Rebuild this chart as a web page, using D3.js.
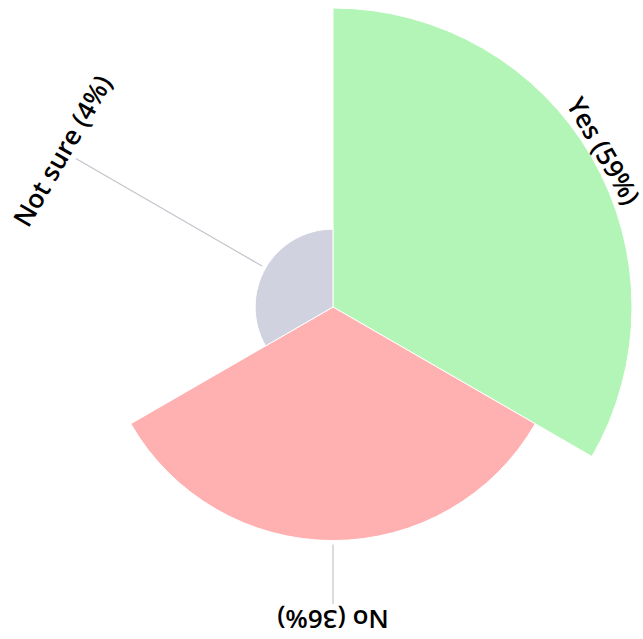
<!DOCTYPE html>
<html><head><meta charset="utf-8">
<script src="https://cdn.jsdelivr.net/npm/d3@7"></script>
<style>html,body{margin:0;padding:0;background:#fff;}svg{display:block;}</style>
</head><body>
<svg id="chart" width="643" height="639"></svg>
<script>
const categories = ["Yes", "No", "Not sure"];
const values = [59, 36, 4];
const colors = ["#b2f5b7", "#ffb0b0", "#d0d2df"];

const W = 643, H = 639, cx = 333, cy = 307;
const maxR = 299, labelR = 303;
const svg = d3.select("#chart");
const g = svg.append("g").attr("transform", `translate(${cx},${cy})`);

const data = categories.map((c, i) => ({cat: c, value: values[i], color: colors[i]}));
const pie = d3.pie().value(() => 1).sort(null);
const r = d3.scaleSqrt().domain([0, d3.max(values)]).range([0, maxR]);
const arc = d3.arc().innerRadius(0).outerRadius(d => r(d.data.value));
const arcs = pie(data);

g.selectAll("path.slice").data(arcs).join("path")
  .attr("class", "slice")
  .attr("d", arc)
  .attr("fill", d => d.data.color)
  .attr("stroke", "#fff")
  .attr("stroke-width", 1);

const mid = d => (d.startAngle + d.endAngle) / 2;
g.selectAll("line.leader").data(arcs.filter(d => r(d.data.value) + 3 < labelR - 6)).join("line")
  .attr("class", "leader")
  .attr("x1", d => Math.sin(mid(d)) * (r(d.data.value) + 4))
  .attr("y1", d => -Math.cos(mid(d)) * (r(d.data.value) + 4))
  .attr("x2", d => Math.sin(mid(d)) * (labelR - 6))
  .attr("y2", d => -Math.cos(mid(d)) * (labelR - 6))
  .attr("stroke", "#c4c4cc")
  .attr("stroke-width", 1.2);

g.selectAll("text.lbl").data(arcs).join("text")
  .attr("class", "lbl")
  .attr("transform", d => `rotate(${mid(d) * 180 / Math.PI}) translate(0,${-labelR})`)
  .attr("text-anchor", "middle")
  .attr("font-family", "'Open Sans', sans-serif")
  .attr("font-weight", 600)
  .attr("font-size", 26)
  .attr("fill", "#000")
  .text(d => `${d.data.cat} (${d.data.value}%)`);
</script>
</body></html>
